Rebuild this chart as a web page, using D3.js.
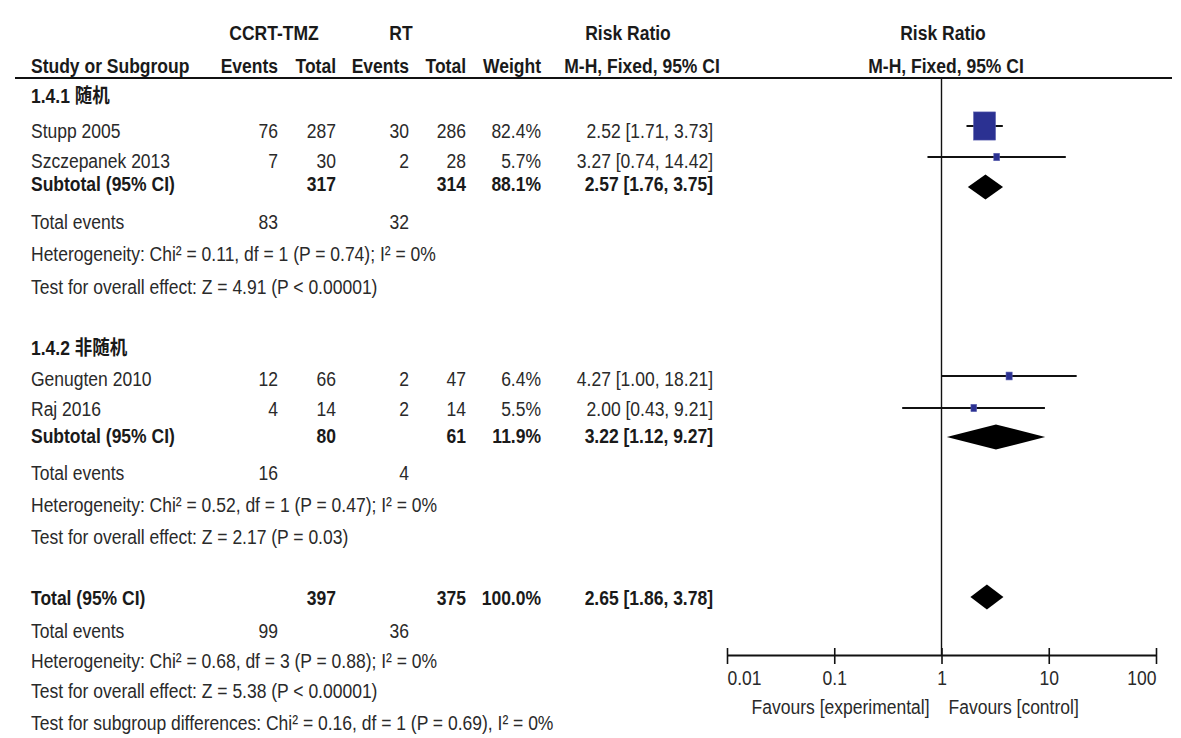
<!DOCTYPE html>
<html>
<head>
<meta charset="utf-8">
<script src="https://cdn.jsdelivr.net/npm/d3@7/dist/d3.min.js"></script>
<style>
  html, body { margin: 0; padding: 0; background: #ffffff; }
  svg { display: block; }
</style>
</head>
<body>
<svg id="chart" width="1181" height="738"></svg>
<script>
// ---- Study-level data ----
const studies     = ["Stupp 2005", "Szczepanek 2013", "Genugten 2010", "Raj 2016"];
const studyGroup  = [0, 0, 1, 1];
const expEvents   = [76, 7, 12, 4];
const expTotal    = [287, 30, 66, 14];
const ctlEvents   = [30, 2, 2, 2];
const ctlTotal    = [286, 28, 47, 14];
const weights     = [82.4, 5.7, 6.4, 5.5];
const riskRatio   = [2.52, 3.27, 4.27, 2.00];
const ciLow       = [1.71, 0.74, 1.00, 0.43];
const ciHigh      = [3.73, 14.42, 18.21, 9.21];

// ---- Subgroup summaries ----
const subgroups        = ["1.4.1 随机", "1.4.2 非随机"];
const subExpTotal      = [317, 80];
const subCtlTotal      = [314, 61];
const subWeight        = [88.1, 11.9];
const subRR            = [2.57, 3.22];
const subLow           = [1.76, 1.12];
const subHigh          = [3.75, 9.27];
const subExpEvents     = [83, 16];
const subCtlEvents     = [32, 4];
const subHeterogeneity = ["Heterogeneity: Chi² = 0.11, df = 1 (P = 0.74); I² = 0%",
                          "Heterogeneity: Chi² = 0.52, df = 1 (P = 0.47); I² = 0%"];
const subOverall       = ["Test for overall effect: Z = 4.91 (P < 0.00001)",
                          "Test for overall effect: Z = 2.17 (P = 0.03)"];

// ---- Pooled total ----
const totalExpTotal  = 397;
const totalCtlTotal  = 375;
const totalWeight    = 100.0;
const totalRR        = 2.65;
const totalLow       = 1.86;
const totalHigh      = 3.78;
const totalExpEvents = 99;
const totalCtlEvents = 36;
const totalHeterogeneity = "Heterogeneity: Chi² = 0.68, df = 3 (P = 0.88); I² = 0%";
const totalOverall       = "Test for overall effect: Z = 5.38 (P < 0.00001)";
const subgroupDiff       = "Test for subgroup differences: Chi² = 0.16, df = 1 (P = 0.69), I² = 0%";

// ---- Axis ----
const axisTicks       = [0.01, 0.1, 1, 10, 100];
const axisTickLabels  = ["0.01", "0.1", "1", "10", "100"];
const favoursLeft     = "Favours [experimental]";
const favoursRight    = "Favours [control]";

// ---- Layout ----
const svg = d3.select("#chart");
const FONT = "'Liberation Sans', Arial, 'Noto Sans CJK SC', sans-serif";
const SX = 0.875;          // condensed lettering
const FS = 20;
const textCol = "#2a2a2a";
const boldCol = "#1a1a1a";
const blue = "#2b3192";

const col = { name: 31, expEv: 278, expTot: 336, ctlEv: 409, ctlTot: 466, weight: 541, rr: 713 };

// text baselines for each table row
const rows = {
  head1: 40, head2: 73,
  grp: [103, 355],
  study: [138, 168, 386, 416],
  sub: [191, 443],
  subEvents: [229, 480],
  subHet: [261, 512],
  subTest: [294, 544],
  total: 605, totEvents: 638, totHet: 668, totTest: 698, diff: 730
};
// vertical centres of the plotted marks
const markY = { study: [126, 157, 376, 408], sub: [187, 437], total: 597 };

const x = d3.scaleLog().domain([0.01, 100]).range([727, 1156]);
const boxSide = d3.scaleSqrt().domain([0, 100]).range([0, 31]);

const fmt2 = d3.format(".2f");
const fmt1 = d3.format(".1f");
const ciText = (r, l, h) => `${fmt2(r)} [${fmt2(l)}, ${fmt2(h)}]`;

function label(str, px, py, opts = {}) {
  return svg.append("text")
    .attr("transform", `translate(${px},${py}) scale(${SX},1)`)
    .attr("text-anchor", opts.anchor || "start")
    .attr("font-family", FONT)
    .attr("font-size", opts.size || FS)
    .attr("font-weight", opts.bold ? "bold" : "normal")
    .attr("fill", opts.bold ? boldCol : textCol)
    .text(str);
}

// ---- Header ----
label("CCRT-TMZ", 274, rows.head1, { anchor: "middle", bold: true });
label("RT", 401, rows.head1, { anchor: "middle", bold: true });
label("Risk Ratio", 628, rows.head1, { anchor: "middle", bold: true });
label("Risk Ratio", 943, rows.head1, { anchor: "middle", bold: true });
label("Study or Subgroup", col.name, rows.head2, { bold: true });
label("Events", col.expEv, rows.head2, { anchor: "end", bold: true });
label("Total", col.expTot, rows.head2, { anchor: "end", bold: true });
label("Events", col.ctlEv, rows.head2, { anchor: "end", bold: true });
label("Total", col.ctlTot, rows.head2, { anchor: "end", bold: true });
label("Weight", col.weight, rows.head2, { anchor: "end", bold: true });
label("M-H, Fixed, 95% CI", 642, rows.head2, { anchor: "middle", bold: true });
label("M-H, Fixed, 95% CI", 946, rows.head2, { anchor: "middle", bold: true });

svg.append("line").attr("x1", 15).attr("x2", 1172).attr("y1", 78).attr("y2", 78)
  .attr("stroke", "#111").attr("stroke-width", 2);

// ---- Line of no effect ----
svg.append("line").attr("x1", x(1)).attr("x2", x(1)).attr("y1", 78).attr("y2", 655)
  .attr("stroke", "#111").attr("stroke-width", 1.4);

// ---- Study rows ----
studies.forEach((s, i) => {
  const y = rows.study[i];
  label(s, col.name, y);
  label(expEvents[i], col.expEv, y, { anchor: "end" });
  label(expTotal[i], col.expTot, y, { anchor: "end" });
  label(ctlEvents[i], col.ctlEv, y, { anchor: "end" });
  label(ctlTotal[i], col.ctlTot, y, { anchor: "end" });
  label(fmt1(weights[i]) + "%", col.weight, y, { anchor: "end" });
  label(ciText(riskRatio[i], ciLow[i], ciHigh[i]), col.rr, y, { anchor: "end" });
});

const plot = svg.append("g");
plot.selectAll("line.ci").data(studies).join("line")
  .attr("class", "ci")
  .attr("x1", (d, i) => x(ciLow[i])).attr("x2", (d, i) => x(ciHigh[i]))
  .attr("y1", (d, i) => markY.study[i]).attr("y2", (d, i) => markY.study[i])
  .attr("stroke", "#111").attr("stroke-width", 2);
plot.selectAll("rect.box").data(studies).join("rect")
  .attr("class", "box")
  .attr("x", (d, i) => x(riskRatio[i]) - boxSide(weights[i]) * 0.78 / 2)
  .attr("y", (d, i) => markY.study[i] - boxSide(weights[i]) / 2)
  .attr("width", (d, i) => boxSide(weights[i]) * 0.78)
  .attr("height", (d, i) => boxSide(weights[i]))
  .attr("fill", blue).attr("stroke", "#5a5fb0").attr("stroke-width", 0.6);

function diamond(rr, lo, hi, cy) {
  const h = 12.5;
  const pts = [[x(lo), cy], [x(rr), cy - h], [x(hi), cy], [x(rr), cy + h]];
  plot.append("path").attr("d", "M" + pts.map(p => p.join(",")).join("L") + "Z")
    .attr("fill", "#000");
}

// ---- Subgroup blocks ----
subgroups.forEach((g, k) => {
  label(g, col.name, rows.grp[k], { bold: true });
  const ys = rows.sub[k];
  label("Subtotal (95% CI)", col.name, ys, { bold: true });
  label(subExpTotal[k], col.expTot, ys, { anchor: "end", bold: true });
  label(subCtlTotal[k], col.ctlTot, ys, { anchor: "end", bold: true });
  label(fmt1(subWeight[k]) + "%", col.weight, ys, { anchor: "end", bold: true });
  label(ciText(subRR[k], subLow[k], subHigh[k]), col.rr, ys, { anchor: "end", bold: true });
  label("Total events", col.name, rows.subEvents[k]);
  label(subExpEvents[k], col.expEv, rows.subEvents[k], { anchor: "end" });
  label(subCtlEvents[k], col.ctlEv, rows.subEvents[k], { anchor: "end" });
  label(subHeterogeneity[k], col.name, rows.subHet[k]);
  label(subOverall[k], col.name, rows.subTest[k]);
  diamond(subRR[k], subLow[k], subHigh[k], markY.sub[k]);
});

// ---- Overall ----
label("Total (95% CI)", col.name, rows.total, { bold: true });
label(totalExpTotal, col.expTot, rows.total, { anchor: "end", bold: true });
label(totalCtlTotal, col.ctlTot, rows.total, { anchor: "end", bold: true });
label(fmt1(totalWeight) + "%", col.weight, rows.total, { anchor: "end", bold: true });
label(ciText(totalRR, totalLow, totalHigh), col.rr, rows.total, { anchor: "end", bold: true });
label("Total events", col.name, rows.totEvents);
label(totalExpEvents, col.expEv, rows.totEvents, { anchor: "end" });
label(totalCtlEvents, col.ctlEv, rows.totEvents, { anchor: "end" });
label(totalHeterogeneity, col.name, rows.totHet);
label(totalOverall, col.name, rows.totTest);
label(subgroupDiff, col.name, rows.diff);
diamond(totalRR, totalLow, totalHigh, markY.total);

// ---- Log axis ----
const axisY = 655;
const axis = d3.axisBottom(x)
  .tickValues(axisTicks)
  .tickFormat((d, i) => axisTickLabels[i])
  .tickSizeOuter(0);
const ag = svg.append("g").attr("transform", `translate(0,${axisY})`).call(axis);
ag.select(".domain").attr("stroke", "#111").attr("stroke-width", 2);
ag.selectAll(".tick line").attr("y1", -7).attr("y2", 9).attr("stroke", "#111").attr("stroke-width", 1.6);
ag.selectAll(".tick text")
  .attr("x", 0).attr("y", 30).attr("dy", 0)
  .attr("font-family", FONT).attr("font-size", FS).attr("fill", textCol)
  .attr("text-anchor", (d, i) => i === 0 ? "start" : (i === axisTicks.length - 1 ? "end" : "middle"))
  .attr("transform", `scale(${SX},1)`);

label(favoursLeft, x(1) - 12, 714, { anchor: "end" });
label(favoursRight, x(1) + 7, 714, { anchor: "start" });
</script>
</body>
</html>
